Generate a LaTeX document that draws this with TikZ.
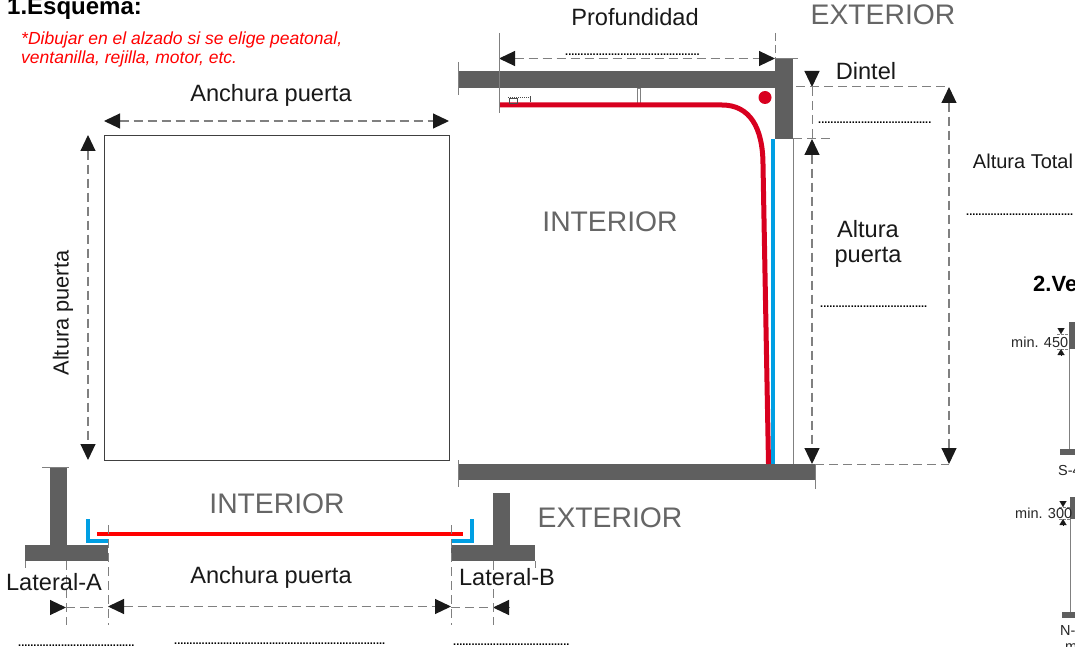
\documentclass[tikz,border=0pt]{standalone}
\usepackage{fontspec}
\setmainfont{Liberation Sans}
\usetikzlibrary{arrows.meta}
\definecolor{wallgray}{HTML}{5F5F5F}
\definecolor{txtgray}{HTML}{666666}
\definecolor{linegray}{HTML}{808080}
\definecolor{doorred}{HTML}{D8001F}
\definecolor{brightred}{HTML}{FF0000}
\definecolor{railblue}{HTML}{009FE3}
\definecolor{tipblack}{HTML}{1A1A1A}
\newcommand{\dotsA}{.....................................}
\newcommand{\dotsB}{...................................}
\newcommand{\dotsC}{............................................}
\newcommand{\dotsD}{.....................................................................}
\newcommand{\dotsE}{......................................}
\tikzset{
  lab/.style={inner sep=0pt,text=black!90,font=\fontsize{23.6}{28}\selectfont},
  zone/.style={inner sep=0pt,text=txtgray,font=\fontsize{28.3}{32}\selectfont},
  tiny/.style={inner sep=0pt,text=black!85,font=\fontsize{14.5}{16}\selectfont},
  dots/.style={inner sep=0pt,text=black,font=\fontsize{11}{12}\selectfont\bfseries},
  wall/.style={fill=wallgray,draw=none},
  ext/.style={draw=linegray,line width=1pt,dash pattern=on 9pt off 5pt},
  thin solid/.style={draw=linegray,line width=0.9pt},
  dim/.style={draw=linegray,line width=1.1pt,dash pattern=on 9pt off 5pt,
     {Triangle[length=16pt,width=15pt,color=tipblack]}-{Triangle[length=16pt,width=15pt,color=tipblack]}},
  dimto/.style={draw=linegray,line width=1.1pt,dash pattern=on 9pt off 5pt,
     -{Triangle[length=16pt,width=15pt,color=tipblack]}},
  smalldim/.style={draw=tipblack,line width=0.1pt,-{Triangle[length=6pt,width=7pt,color=tipblack]}},
}
\begin{document}
\begin{tikzpicture}[x=1pt,y=-1pt]
\clip (0,0) rectangle (1075,647);
\fill[white] (0,0) rectangle (1075,647);

% headings
\node[anchor=base west,inner sep=0pt,font=\fontsize{24}{26}\selectfont\bfseries] (h1) at (7,15) {1.Esquema:};
\node[anchor=base west,inner sep=0pt,text=brightred,font=\fontsize{17.5}{20}\selectfont\itshape] (n1) at (21,44.5) {*Dibujar en el alzado si se elige peatonal,};
\node[anchor=base west,inner sep=0pt,text=brightred,font=\fontsize{17.5}{20}\selectfont\itshape] (n2) at (21,64) {ventanilla, rejilla, motor, etc.};

% elevation box
\node[draw=black!75,line width=0.8pt,minimum width=345pt,minimum height=325pt,inner sep=0pt,anchor=north west] (box) at (104,135) {};
\coordinate (tl) at (104,121); \coordinate (tr) at (449,121);
\draw[dim] (tl) -- (tr);
\coordinate (lt) at (88,135); \coordinate (lb) at (88,460);
\draw[dim] (lt) -- (lb);
\node[lab,anchor=base] (ap1) at (271,102) {Anchura puerta};
\node[lab,rotate=90,font=\fontsize{21.8}{26}\selectfont] (ap2) at (63,313) {Altura puerta};

% section: walls
\fill[wall] (458,71) rectangle (775,88);
\fill[wall] (775,58) rectangle (793,139);
\fill[wall] (458,464) rectangle (815,480);
\coordinate (g1) at (793,139); \coordinate (g2) at (793,464);
\draw[thin solid] (g1) -- (g2);
\draw[thin solid] (458,62) -- (458,95);
\draw[thin solid] (458,460) -- (458,487);
\draw[thin solid] (775,58) -- (798,58);
% post
\draw[draw=linegray,fill=white,line width=0.7pt] (637.5,88) rectangle (640.5,103);
% door
\coordinate (r1) at (499,105); \coordinate (r2) at (722,105);
\coordinate (r3) at (763,165); \coordinate (r4) at (768.5,464);
\draw[doorred,line width=5pt] (r1) -- (r2) .. controls (750,105) and (763,128) .. (r3) -- (r4);
\fill[doorred] (765,97.5) circle (6.5pt);
\draw[railblue,line width=4.5pt] (773,139) -- (773,464);
% motor detail
\draw[black!70,line width=0.7pt] (509.5,98) rectangle (517,103);
\draw[black!70,line width=1.4pt,dash pattern=on 1pt off 1pt] (508,97.5) -- (530,97.5);
\draw[black!70,line width=0.7pt] (530,96.5) -- (530,102.5);

% section: dimensions
\coordinate (pa) at (499,58.5); \coordinate (pb) at (775,58.5);
\draw[dim] (pa) -- (pb);
\draw[thin solid,line width=0.7pt] (499,33) -- (499,113);
\draw[thin solid,line width=0.7pt,dash pattern=on 8pt off 4pt] (775,33) -- (775,58);
\coordinate (d1) at (812,87); \coordinate (d2) at (812,139); \coordinate (d3) at (812,464);
\coordinate (d0) at (812,72);
\draw[dimto] (d0) -- (d1);
\draw[ext] (d1) -- (d2);
\draw[dim] (d2) -- (d3);
\coordinate (t1) at (949,87); \coordinate (t2) at (949,464);
\draw[dim] (t1) -- (t2);
\draw[ext] (796,87) -- (t1);
\draw[ext] (793,139) -- (833,139);
\draw[ext] (815,464) -- (t2);
\draw[thin solid] (815,464) -- (815,489);

\node[lab,anchor=base] (prof) at (635,26) {Profundidad};
\node[zone] (ex1) at (883,15) {EXTERIOR};
\node[lab,anchor=base] (din) at (866,80) {Dintel};
\node[lab,anchor=base,font=\fontsize{20}{24}\selectfont] (at) at (1023,168) {Altura Total};
\node[lab,anchor=base] (ap3) at (868,237) {Altura};
\node[lab,anchor=base] (ap4) at (868,262) {puerta};
\node[zone] (in1) at (610,222) {INTERIOR};

% plan
\fill[wall] (50,467) rectangle (67,545);
\fill[wall] (25,545) rectangle (108,561);
\fill[wall] (493,493) rectangle (510,545);
\fill[wall] (451,545) rectangle (535,561);
\draw[thin solid,line width=0.7pt] (42,467) -- (69,467);
\draw[railblue,line width=3.2pt] (88,519) -- (88,541) -- (108.5,541);
\draw[railblue,line width=3.2pt] (472,519) -- (472,541) -- (451,541);
\coordinate (pr1) at (97,533.5); \coordinate (pr2) at (463,533.5);
\draw[brightred,line width=4pt] (pr1) -- (pr2);
\coordinate (a1) at (51,607.5); \coordinate (a2) at (66,607.5); \coordinate (a3) at (108,607.5);
\coordinate (a4) at (108,606.5); \coordinate (a5) at (451,606.5);
\coordinate (a6) at (451,607.5); \coordinate (a7) at (493,607.5); \coordinate (a8) at (509,607.5);
\draw[dimto] (a1) -- (a2);
\draw[ext] (a2) -- (a3);
\draw[dim] (a4) -- (a5);
\draw[ext] (a6) -- (a7);
\draw[dimto] (a8) -- (a7);
\foreach \px/\py in {66/561,108/525,451/525,493/561}
  \draw[ext] (\px,\py) -- (\px,625);
\draw[thin solid] (25,561) -- (25,568);
\draw[thin solid] (535,561) -- (535,568);

\node[zone] (in2) at (277,504) {INTERIOR};
\node[zone] (ex2) at (610,518) {EXTERIOR};
\node[lab,anchor=base] (ap5) at (271,583) {Anchura puerta};
\node[lab,anchor=base] (la) at (54,590) {Lateral-A};
\node[lab,anchor=base] (lb2) at (507,585) {Lateral-B};

% dotted fill-ins
\node[dots,anchor=base west] (f1) at (565,56) {\dotsC};
\node[dots,anchor=base west] (f2) at (818,124) {\dotsA};
\node[dots,anchor=base west] (f3) at (820,307) {\dotsB};
\node[dots,anchor=base west] (f4) at (966,215) {\dotsB};
\node[dots,anchor=base west] (f5) at (18,646) {\dotsE};
\node[dots,anchor=base west] (f6) at (174,644) {\dotsD};
\node[dots,anchor=base west] (f7) at (453,645) {\dotsE};

% section 2 (cut by the page edge)
\node[anchor=base west,inner sep=0pt,font=\fontsize{22}{24}\selectfont\bfseries] (h2) at (1033,291) {2.Ve};
\fill[wall] (1069,322) rectangle (1076,349);
\draw[thin solid] (1069.5,349) -- (1069.5,450);
\fill[wall] (1060,449) rectangle (1076,455);
\draw[ext,line width=0.5pt,dash pattern=on 3pt off 1pt] (1057,334) -- (1069,334);
\draw[ext,line width=0.5pt,dash pattern=on 3pt off 1pt] (1057,349) -- (1069,349);
\coordinate (s1) at (1061,328); \coordinate (s2) at (1061,334); \coordinate (s3) at (1061,355); \coordinate (s4) at (1061,349);
\draw[smalldim] (s1) -- (s2);
\draw[smalldim] (s3) -- (s4);
\node[tiny,anchor=base west] (m1) at (1011,347) {min. 450};
\node[tiny,anchor=base west] (s5) at (1058,475) {S-4};

\fill[wall] (1070,497) rectangle (1076,519);
\draw[thin solid] (1070.5,519) -- (1070.5,613);
\fill[wall] (1062,612) rectangle (1076,618);
\draw[ext,line width=0.5pt,dash pattern=on 3pt off 1pt] (1059,507) -- (1070,507);
\draw[ext,line width=0.5pt,dash pattern=on 3pt off 1pt] (1059,519) -- (1070,519);
\coordinate (s6) at (1063,501); \coordinate (s7) at (1063,507); \coordinate (s8) at (1063,525); \coordinate (s9) at (1063,519);
\draw[smalldim] (s6) -- (s7);
\draw[smalldim] (s8) -- (s9);
\node[tiny,anchor=base west] (m2) at (1015,518) {min. 300};
\node[tiny,anchor=base west] (n5) at (1060,635) {N-};
\node[tiny,anchor=base west] (m3) at (1065,651) {m};
\end{tikzpicture}
\end{document}
